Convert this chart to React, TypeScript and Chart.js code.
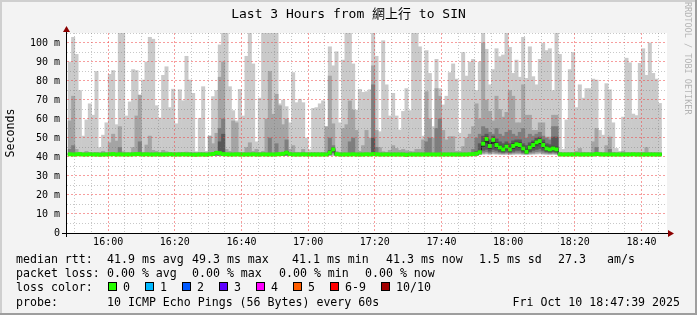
import React, { useEffect, useRef } from 'react';
import { Chart, registerables } from 'chart.js';

Chart.register(...registerables);

// ---------------- texts ----------------
const chartTitle = 'Last 3 Hours from 網上行 to SIN';
const yAxisTitle = 'Seconds';
const watermarkText = 'RRDTOOL / TOBI OETIKER';
const xTickLabels = ['16:00', '16:20', '16:40', '17:00', '17:20', '17:40', '18:00', '18:20', '18:40'];
const yTickLabels = ['0', '10 m', '20 m', '30 m', '40 m', '50 m', '60 m', '70 m', '80 m', '90 m', '100 m'];
const yGridValues = [0, 5, 10, 15, 20, 25, 30, 35, 40, 45, 50, 55, 60, 65, 70, 75, 80, 85, 90, 95, 100, 105];
const medianRttLegend = ['median rtt:', '41.9 ms avg', '49.3 ms max', '41.1 ms min', '41.3 ms now', '1.5 ms sd', '27.3', 'am/s'];
const packetLossLegend = ['packet loss:', '0.00 % avg', '0.00 % max', '0.00 % min', '0.00 % now'];
const lossColorTitle = 'loss color:';
const lossLabels = ['0', '1', '2', '3', '4', '5', '6-9', '10/10'];
const lossColors = ['#26ff00', '#00b8ff', '#0059ff', '#5e00ff', '#ff00ff', '#ff5e00', '#ff0000', '#a10000'];
const probeLegend = ['probe:', '10 ICMP Echo Pings (56 Bytes) every 60s'];
const timestampText = 'Fri Oct 10 18:47:39 2025';

// ---------------- time axis (minutes after 15:47:39) ----------------
const windowMinutes = 180;
const firstStepMinute = 0.35; // 15:48:00
const firstGridMinute = 2.35; // 15:50
const gridStepMinutes = 5;
const gridLineCount = 36;
const yTop = 105.26;

// ---------------- sorted pings per 1-minute step (ms) ----------------
const pingMin = [
  40.9, 40.9, 40.9, 40.9, 40.9, 40.9, 40.9, 40.9, 40.9, 40.9,
  40.9, 40.9, 40.9, 40.9, 40.9, 40.9, 40.9, 40.9, 40.9, 40.9,
  40.9, 40.9, 40.9, 40.9, 40.9, 40.9, 40.9, 40.9, 40.9, 40.9,
  40.9, 40.9, 40.9, 40.9, 40.9, 40.9, 40.9, 40.9, 40.9, 40.9,
  40.9, 40.9, 40.9, 40.9, 40.9, 40.9, 40.9, 40.9, 40.9, 40.9,
  40.9, 40.9, 40.9, 40.9, 40.9, 40.9, 40.9, 40.9, 40.9, 40.9,
  40.9, 40.9, 40.9, 40.9, 40.9, 40.9, 40.9, 40.9, 40.9, 40.9,
  40.9, 40.9, 40.9, 40.9, 40.9, 40.9, 40.9, 40.9, 40.9, 40.9,
  40.9, 40.9, 40.9, 40.9, 40.9, 40.9, 40.9, 40.9, 40.9, 40.9,
  40.9, 40.9, 40.9, 40.9, 40.9, 40.9, 40.9, 40.9, 40.9, 40.9,
  40.9, 40.9, 40.9, 40.9, 40.9, 40.9, 40.9, 40.9, 40.9, 40.9,
  40.9, 40.9, 40.9, 40.9, 40.9, 40.9, 40.9, 40.9, 40.9, 40.9,
  40.9, 40.9, 40.9, 41.2, 41.4, 41.5, 41.3, 41.5, 41.4, 41.3,
  41.3, 41.3, 41.2, 41.3, 41.4, 41.4, 41.3, 41.2, 41.3, 41.4,
  41.5, 41.6, 41.4, 41.3, 41.3, 41.3, 41.2, 40.9, 40.9, 40.9,
  40.9, 40.9, 40.9, 40.9, 40.9, 40.9, 40.9, 40.9, 40.9, 40.9,
  40.9, 40.9, 40.9, 40.9, 40.9, 40.9, 40.9, 40.9, 40.9, 40.9,
  40.9, 40.9, 40.9, 40.9, 40.9, 40.9, 40.9, 40.9,
];
const ping2 = [
  40.95, 40.95, 40.95, 40.95, 40.95, 40.95, 40.95, 40.95, 40.95, 40.95,
  40.95, 40.95, 40.95, 40.95, 40.95, 40.95, 40.95, 40.95, 40.95, 40.95,
  40.95, 40.95, 40.95, 40.95, 40.95, 40.95, 40.95, 40.95, 40.95, 40.95,
  40.95, 40.95, 40.95, 40.95, 40.95, 40.95, 40.95, 40.95, 40.95, 40.95,
  40.95, 40.95, 40.95, 40.95, 40.95, 40.95, 40.95, 40.95, 40.95, 40.95,
  40.95, 40.95, 40.95, 40.95, 40.95, 40.95, 40.95, 40.95, 40.95, 40.95,
  40.95, 40.95, 40.95, 40.95, 40.95, 40.95, 40.95, 40.95, 40.95, 40.95,
  40.95, 40.95, 40.95, 40.95, 40.95, 40.95, 40.95, 40.95, 40.95, 40.95,
  40.95, 40.95, 40.95, 40.95, 40.95, 40.95, 40.95, 40.95, 40.95, 40.95,
  40.95, 40.95, 40.95, 40.95, 40.95, 40.95, 40.95, 40.95, 40.95, 40.95,
  40.95, 40.95, 40.95, 40.95, 40.95, 40.95, 40.95, 40.95, 40.95, 40.95,
  40.95, 40.95, 40.95, 40.95, 40.95, 40.95, 40.95, 40.95, 40.95, 40.95,
  40.95, 40.95, 40.95, 41.4, 41.8, 42, 41.7, 42, 41.8, 41.7,
  41.6, 41.7, 41.6, 41.7, 41.8, 41.8, 41.6, 41.5, 41.7, 41.8,
  42, 42.2, 41.8, 41.7, 41.6, 41.7, 41.6, 40.95, 40.95, 40.95,
  40.95, 40.95, 40.95, 40.95, 40.95, 40.95, 40.95, 40.95, 40.95, 40.95,
  40.95, 40.95, 40.95, 40.95, 40.95, 40.95, 40.95, 40.95, 40.95, 40.95,
  40.95, 40.95, 40.95, 40.95, 40.95, 40.95, 40.95, 40.95,
];
const ping3 = [
  41, 41, 41, 41, 41, 41, 41, 41, 41, 41,
  41, 41, 41, 41, 41, 41, 41, 41, 41, 41,
  41, 41, 41, 41, 41, 41, 41, 41, 41, 41,
  41, 41, 41, 41, 41, 41, 41, 41, 41, 41,
  41, 41, 41, 41, 41, 41, 41, 41, 41, 41,
  41, 41, 41, 41, 41, 41, 41, 41, 41, 41,
  41, 41, 41, 41, 41, 41, 41, 41, 41, 41,
  41, 41, 41, 41, 41, 41, 41, 41, 41, 42,
  41, 41, 41, 41, 41, 41, 41, 41, 41, 41,
  41, 41, 41, 41, 41, 41, 41, 41, 41, 41,
  41, 41, 41, 41, 41, 41, 41, 41, 41, 41,
  41, 41, 41, 41, 41, 41, 41, 41, 41, 41,
  41, 41, 41, 41.6, 42.5, 42.8, 42.2, 42.8, 42.5, 42.2,
  42, 42.3, 42, 42.3, 42.5, 42.5, 42, 41.7, 42.2, 42.5,
  42.8, 43, 42.5, 42.2, 42, 42.2, 42, 41, 41, 41,
  41, 41, 41, 41, 41, 41, 41, 41, 41, 41,
  41, 41, 41, 41, 41, 41, 41, 41, 41, 41,
  41, 41, 41, 41, 41, 41, 41, 41,
];
const ping4 = [
  41.05, 41.05, 41.05, 41.05, 41.05, 41.05, 41.05, 41.05, 41.05, 41.05,
  41.05, 41.05, 41.05, 41.05, 41.05, 41.05, 41.05, 41.05, 41.05, 41.05,
  41.05, 41.05, 41.05, 41.05, 41.05, 41.05, 41.05, 41.05, 41.05, 41.05,
  41.05, 41.05, 41.05, 41.05, 41.05, 41.05, 41.05, 41.05, 41.05, 41.05,
  41.05, 41.05, 41.05, 41.05, 41.05, 41.05, 41.05, 41.05, 41.05, 41.05,
  41.05, 41.05, 41.05, 41.05, 41.05, 41.05, 41.05, 41.05, 41.05, 41.05,
  41.05, 41.05, 41.05, 41.05, 41.05, 41.05, 41.05, 41.05, 41.05, 41.05,
  41.05, 41.05, 41.05, 41.05, 41.05, 41.05, 41.05, 41.05, 41.5, 42.5,
  41.05, 41.05, 41.05, 41.05, 41.05, 41.05, 41.05, 41.05, 41.05, 41.05,
  41.05, 41.05, 41.05, 41.05, 41.05, 41.05, 41.05, 41.05, 41.05, 41.05,
  41.05, 41.05, 41.05, 41.05, 41.05, 41.05, 41.05, 41.05, 41.05, 41.05,
  41.05, 41.05, 41.05, 41.05, 41.05, 41.05, 41.05, 41.05, 41.05, 41.05,
  41.05, 41.05, 41.1, 41.8, 43.5, 44, 43, 44, 43.5, 42.8,
  42.5, 43, 42.5, 43, 43.5, 43.5, 42.5, 41.9, 42.8, 43.5,
  44, 44.5, 43.5, 42.8, 42.5, 42.8, 42.5, 41.05, 41.05, 41.05,
  41.05, 41.05, 41.05, 41.05, 41.05, 41.05, 41.05, 41.05, 41.05, 41.05,
  41.05, 41.05, 41.05, 41.05, 41.05, 41.05, 41.05, 41.05, 41.05, 41.05,
  41.05, 41.05, 41.05, 41.05, 41.05, 41.05, 41.05, 41.05,
];
const ping5 = [
  41.1, 41.1, 41.1, 41.1, 41.1, 41.1, 41.1, 41.1, 41.1, 41.1,
  41.1, 41.1, 41.1, 41.1, 41.1, 41.1, 41.1, 41.1, 41.1, 41.1,
  41.1, 41.1, 41.1, 41.1, 41.1, 41.1, 41.1, 41.1, 41.1, 41.1,
  41.1, 41.1, 41.1, 41.1, 41.1, 41.1, 41.1, 41.1, 41.1, 41.1,
  41.1, 41.1, 41.1, 41.1, 41.8, 41.6, 41.1, 41.1, 41.1, 41.1,
  41.1, 41.1, 41.1, 41.1, 41.1, 41.1, 41.1, 41.1, 41.1, 41.1,
  41.1, 41.1, 41.1, 41.1, 41.1, 41.9, 41.1, 41.1, 41.1, 41.1,
  41.1, 41.1, 41.1, 41.1, 41.1, 41.1, 41.1, 41.1, 41.8, 43.2,
  41.1, 41.1, 41.1, 41.1, 41.1, 41.1, 41.1, 41.1, 41.1, 41.1,
  41.1, 41.1, 41.1, 41.1, 41.1, 41.1, 41.1, 41.1, 41.1, 41.1,
  41.1, 41.1, 41.1, 41.1, 41.1, 41.1, 41.1, 41.1, 41.1, 41.1,
  41.1, 41.1, 41.1, 41.1, 41.1, 41.1, 41.1, 41.1, 41.1, 41.1,
  41.1, 41.1, 41.2, 42, 45.5, 47.5, 44.5, 47, 45, 43.8,
  43, 44.3, 43, 44.5, 45.3, 45, 43.3, 42.2, 43.8, 45,
  46.3, 47, 45, 43.5, 43, 43.5, 43, 41.1, 41.1, 41.1,
  41.1, 41.1, 41.1, 41.1, 41.1, 41.1, 41.1, 41.1, 41.1, 41.1,
  41.1, 41.1, 41.1, 41.1, 41.1, 41.1, 41.1, 41.1, 41.1, 41.1,
  41.1, 41.1, 41.1, 41.1, 41.1, 41.1, 41.1, 41.1,
];
const ping6 = [
  41.7, 41.7, 41.7, 41.7, 41.7, 41.7, 41.7, 41.7, 41.7, 41.7,
  41.7, 41.7, 41.7, 41.7, 41.7, 41.7, 41.7, 41.7, 41.7, 41.7,
  41.7, 41.7, 41.7, 41.7, 41.7, 41.7, 41.7, 41.7, 41.7, 41.7,
  41.7, 41.7, 41.7, 41.7, 41.7, 41.7, 41.7, 41.7, 41.7, 41.7,
  41.7, 41.7, 41.7, 41.8, 42.6, 42.4, 41.7, 41.7, 41.7, 41.7,
  41.7, 41.7, 41.7, 41.7, 41.7, 41.7, 41.7, 41.7, 41.7, 41.7,
  41.7, 41.7, 41.7, 41.7, 42, 42.7, 41.7, 41.7, 41.7, 41.7,
  41.7, 41.7, 41.7, 41.7, 41.7, 41.7, 41.7, 41.7, 43, 44.6,
  41.7, 41.7, 41.7, 41.7, 41.7, 41.7, 41.7, 41.7, 41.7, 41.7,
  41.7, 41.7, 41.7, 41.7, 41.7, 41.7, 41.7, 41.7, 41.7, 41.7,
  41.7, 41.7, 41.7, 41.7, 41.7, 41.7, 41.7, 41.7, 41.7, 41.7,
  41.7, 41.7, 41.7, 41.7, 41.7, 41.7, 41.7, 41.7, 41.7, 41.7,
  41.7, 41.7, 42.1, 43.3, 48, 50.5, 47, 50, 47.5, 46.2,
  45.2, 46.7, 45.2, 47, 47.8, 47.5, 45.7, 44, 46.2, 47.5,
  48.8, 49.5, 47.5, 45.7, 45.2, 45.7, 45.2, 41.7, 41.7, 41.7,
  41.7, 41.7, 41.7, 41.7, 41.7, 41.7, 41.7, 41.7, 41.9, 41.7,
  41.7, 41.7, 41.7, 41.7, 41.7, 41.7, 41.7, 41.7, 41.7, 41.7,
  41.7, 41.7, 41.7, 41.7, 41.7, 41.7, 41.7, 41.7,
];
const ping7 = [
  41.9, 41.9, 41.9, 41.9, 41.9, 41.9, 41.9, 41.9, 41.9, 41.9,
  41.9, 41.9, 41.9, 41.9, 41.9, 41.9, 41.9, 41.9, 41.9, 41.9,
  41.9, 41.9, 41.9, 41.9, 41.9, 41.9, 41.9, 41.9, 41.9, 41.9,
  41.9, 41.9, 41.9, 41.9, 41.9, 41.9, 41.9, 41.9, 41.9, 41.9,
  41.9, 41.9, 41.9, 41.9, 42.8, 48, 52, 41.9, 41.9, 41.9,
  41.9, 41.9, 41.9, 41.9, 41.9, 41.9, 41.9, 41.9, 41.9, 41.9,
  41.9, 41.9, 41.9, 41.9, 42.2, 43, 41.9, 41.9, 41.9, 41.9,
  41.9, 41.9, 41.9, 41.9, 41.9, 41.9, 41.9, 41.9, 43.5, 45,
  41.9, 41.9, 41.9, 41.9, 41.9, 41.9, 41.9, 41.9, 41.9, 41.9,
  41.9, 50, 41.9, 41.9, 41.9, 41.9, 41.9, 41.9, 41.9, 41.9,
  41.9, 41.9, 41.9, 41.9, 41.9, 41.9, 41.9, 41.9, 41.9, 41.9,
  41.9, 41.9, 41.9, 41.9, 41.9, 41.9, 41.9, 41.9, 41.9, 41.9,
  41.9, 41.9, 43, 47, 51, 52, 49, 51, 49.5, 48,
  47, 48, 47, 48.5, 49, 49, 47, 46, 47.5, 48.5,
  50, 50.5, 49, 47, 46.5, 50.5, 50.5, 41.9, 41.9, 41.9,
  41.9, 41.9, 41.9, 41.9, 41.9, 41.9, 41.9, 41.9, 42.1, 41.9,
  41.9, 41.9, 41.9, 41.9, 41.9, 41.9, 41.9, 41.9, 41.9, 41.9,
  41.9, 41.9, 41.9, 41.9, 41.9, 41.9, 41.9, 41.9,
];
const ping8 = [
  44, 46, 42.1, 42.1, 42.1, 42.1, 42.1, 42.1, 42.1, 42.1,
  42.1, 42.1, 42.1, 42.1, 42.1, 45, 42.1, 42.1, 42.1, 42.1,
  42.1, 48, 42.1, 42.1, 42.1, 42.1, 42.1, 42.1, 42.1, 42.1,
  42.1, 42.1, 42.1, 42.1, 42.1, 42.1, 42.1, 42.1, 42.1, 42.1,
  42.1, 42.1, 42.1, 42.1, 43, 55, 60, 42.1, 42.1, 42.1,
  42.1, 42.1, 42.1, 42.1, 42.1, 42.1, 42.1, 42.1, 42.1, 42.1,
  50, 42.1, 47, 42.1, 42.3, 49, 42.1, 42.1, 42.1, 42.1,
  42.1, 42.1, 42.1, 42.1, 42.1, 42.1, 42.1, 42.1, 50, 46,
  42.1, 42.1, 42.1, 42.1, 48, 50, 42.1, 42.1, 42.1, 42.1,
  42.1, 78, 45, 42.1, 42.1, 42.1, 42.1, 42.1, 42.1, 42.1,
  42.1, 42.1, 42.1, 42.1, 42.1, 42.1, 42.1, 48, 50, 42.1,
  55, 60, 42.1, 42.1, 42.1, 42.1, 42.1, 42.1, 42.1, 42.1,
  42.1, 44, 50, 52, 56, 55, 53, 52, 55, 52,
  51, 53, 54, 52, 51, 53, 55, 50, 52, 51,
  52, 53, 51, 50, 49, 56, 56, 42.1, 42.1, 42.1,
  42.1, 42.1, 42.1, 42.1, 42.1, 42.1, 42.1, 42.1, 45, 42.1,
  42.1, 42.1, 44, 42.1, 42.1, 42.1, 42.1, 42.1, 42.1, 42.1,
  42.1, 42.1, 42.1, 42.1, 42.1, 42.1, 42.1, 42.1,
];
const ping9 = [
  59, 72, 44, 42.5, 42.2, 43, 42.3, 42.2, 42.4, 42.2,
  43, 42.3, 47.5, 52, 48.4, 56, 42.8, 42.3, 42.2, 45,
  61.6, 72.6, 42.5, 46.3, 51, 43.5, 43, 42.3, 43.5, 42.8,
  42.4, 42.3, 42.2, 42.5, 42.3, 42.6, 42.4, 42.2, 42.2, 42.3,
  42.3, 42.2, 51, 47, 52.5, 82, 90, 44, 43, 59,
  58, 42.5, 42.3, 45, 47.5, 43, 44, 42.4, 43, 60,
  85, 62.5, 73, 67, 57, 60, 44, 46, 42.5, 42.4,
  44, 42.3, 42.2, 42.3, 42.3, 42.2, 42.4, 56, 82.6, 57.5,
  43, 42.5, 55, 57, 69.5, 64.7, 54, 43, 46, 54,
  50, 88, 54, 45, 42.8, 42.5, 43.5, 46, 44.5, 43.5,
  44, 43.3, 43, 42.8, 44, 44, 49, 74.4, 60, 50,
  76, 72, 54, 49, 50.7, 50.7, 43, 43, 45.5, 50,
  52, 56, 68, 60, 100, 70, 64, 59, 72, 65,
  61, 63.5, 75, 72, 58, 58, 78, 62, 62, 54,
  54, 58, 58, 50.5, 50.5, 62, 62, 42.5, 42.2, 42.3,
  42.3, 42.3, 43, 44.5, 42.5, 42.4, 42.3, 48, 55, 42.5,
  42.3, 46, 50.5, 42.5, 42.2, 42.2, 43, 42.4, 42.3, 42.2,
  42.3, 42.4, 42.5, 45, 42.4, 42.3, 42.3, 42.2,
];
const pingMax = [
  90, 103, 94, 75, 51, 59.5, 68, 62, 85, 45,
  51.5, 58, 83.5, 85.5, 57, 106, 106, 61.6, 69, 86,
  85.5, 58.6, 80.5, 90, 103, 102, 67, 60.5, 83, 87.5,
  66, 75.7, 57.5, 75.4, 69.6, 93, 80.5, 73.5, 42.8, 60.4,
  77, 43, 51, 71.8, 75, 99, 106, 106, 77, 64.4,
  59, 75.6, 61.6, 93, 106, 89, 48, 71, 106, 106,
  106, 106, 106, 68, 70, 66.5, 58, 84.4, 68.6, 70.4,
  68.6, 50, 43.8, 65.6, 66, 68, 69.6, 54.6, 98, 88,
  95.4, 58, 91, 106, 106, 89, 64.7, 75.6, 74, 74.4,
  75.4, 106, 93, 53.3, 101.2, 78, 61.6, 73.5, 61.6, 54.2,
  64, 76, 64.4, 106, 106, 98, 51, 96, 84, 56,
  91.4, 76, 67.4, 72, 84.4, 89, 81, 52.5, 95, 82.6,
  90, 91.4, 75, 90, 106, 96.7, 78, 86, 97, 92.8,
  93.7, 106, 97.7, 84, 91, 82, 103, 81.4, 98, 82.3,
  78, 91.4, 99.8, 96, 97, 75, 106, 94, 44, 59.5,
  86, 95, 66, 78, 71, 76, 76, 81, 80.5, 54,
  51.5, 78.6, 75.4, 58, 44.5, 43, 61, 92, 89.6, 62.6,
  61.8, 89.3, 97, 83, 100, 84, 81, 68.2,
];
const medianRtt = [
  41.4, 41.3, 41.4, 41.5, 41.3, 41.3, 41.4, 41.3, 41.3, 41.2,
  41.3, 41.3, 41.4, 41.5, 41.3, 41.4, 41.3, 41.3, 41.3, 41.4,
  41.5, 41.5, 41.3, 41.4, 41.3, 41.3, 41.4, 41.3, 41.3, 41.3,
  41.4, 41.3, 41.3, 41.3, 41.4, 41.3, 41.3, 41.2, 41.2, 41.3,
  41.3, 41.2, 41.4, 41.6, 42.2, 42.0, 41.5, 41.4, 41.3, 41.3,
  41.4, 41.3, 41.3, 41.3, 41.3, 41.4, 41.3, 41.3, 41.4, 41.3,
  41.3, 41.3, 41.4, 41.5, 41.7, 42.3, 41.5, 41.3, 41.3, 41.3,
  41.4, 41.3, 41.3, 41.3, 41.3, 41.3, 41.3, 41.3, 42.3, 44.0,
  41.5, 41.3, 41.3, 41.3, 41.3, 41.4, 41.3, 41.3, 41.3, 41.4,
  41.3, 41.5, 41.4, 41.3, 41.3, 41.3, 41.3, 41.3, 41.3, 41.3,
  41.3, 41.1, 41.3, 41.3, 41.3, 41.3, 41.3, 41.3, 41.3, 41.3,
  41.3, 41.3, 41.3, 41.3, 41.3, 41.3, 41.3, 41.3, 41.3, 41.3,
  41.4, 41.5, 41.8, 42.5, 47.0, 49.5, 45.8, 49.0, 46.3, 45.0,
  44.0, 45.5, 44.0, 45.8, 46.7, 46.3, 44.5, 42.8, 45.0, 46.3,
  47.7, 48.4, 46.3, 44.5, 44.0, 44.5, 44.0, 41.4, 41.3, 41.3,
  41.3, 41.3, 41.4, 41.3, 41.3, 41.3, 41.3, 41.3, 41.6, 41.4,
  41.3, 41.3, 41.3, 41.3, 41.3, 41.3, 41.3, 41.3, 41.3, 41.4,
  41.3, 41.3, 41.3, 41.3, 41.3, 41.3, 41.3, 41.3,
];

// ---------------- styles / layout ----------------
const MONO = '"DejaVu Sans Mono", "Noto Sans CJK TC", monospace';
const SMOKE = ['#cacaca', '#a4a4a4', '#7e7e7e', '#585858', '#323232'];
const MEDIAN_GREEN = '#26ff00';
const MEDIAN_HALF = 0.87; // half thickness of the median line, in ms
const MAJOR_GRID = 'rgba(240, 60, 60, 0.5)';
const MINOR_GRID = 'rgba(110, 110, 110, 0.38)';
const L = {
  medianX: [16, 107, 192, 292, 386, 479, 558, 607],
  lossX: [16, 107, 192, 279, 365],
  boxX: [108, 145, 182, 219, 256, 293, 330, 381],
  lossLabelX: [123, 160, 197, 234, 271, 308, 345, 396],
  probeX: [16, 107],
  rows: [263, 277, 291, 306],
};

const stepCenter = (i: number) => firstStepMinute + i + 0.5;
const band = (lo: number[], hi: number[]) => lo.map((v, i) => ({ x: stepCenter(i), y: [v, hi[i]] }));
const barCommon = { type: 'bar' as const, grouped: false, borderWidth: 0, categoryPercentage: 1, barPercentage: 1 };

const rrdPlugin = {
  id: 'rrdFrame',
  beforeDraw(chart: any) {
    const { ctx, width, height, chartArea: a } = chart;
    ctx.save();
    ctx.fillStyle = '#f3f3f3';
    ctx.fillRect(0, 0, width, height);
    ctx.fillStyle = '#cfcfcf';
    ctx.fillRect(0, 0, width, 2);
    ctx.fillRect(0, 0, 2, height);
    ctx.fillStyle = '#9e9e9e';
    ctx.fillRect(0, height - 2, width, 2);
    ctx.fillRect(width - 2, 0, 2, height);
    ctx.fillStyle = '#ffffff';
    ctx.fillRect(a.left, a.top, a.right - a.left, a.bottom - a.top);

    ctx.fillStyle = '#000';
    ctx.textAlign = 'center';
    ctx.textBaseline = 'middle';
    ctx.font = `13px ${MONO}`;
    ctx.fillText(chartTitle, 348.5, 15);

    ctx.save();
    ctx.translate(11, 133);
    ctx.rotate(-Math.PI / 2);
    ctx.font = `11.6px ${MONO}`;
    ctx.fillText(yAxisTitle, 0, 0);
    ctx.restore();

    ctx.save();
    ctx.translate(687, 2);
    ctx.rotate(Math.PI / 2);
    ctx.textAlign = 'left';
    ctx.font = `8.5px ${MONO}`;
    ctx.fillStyle = '#b4b4b4';
    ctx.fillText(watermarkText, 0, 0);
    ctx.restore();

    ctx.font = `11.6px ${MONO}`;
    ctx.textAlign = 'left';
    ctx.textBaseline = 'alphabetic';
    ctx.fillStyle = '#000';
    medianRttLegend.forEach((t, i) => ctx.fillText(t, L.medianX[i], L.rows[0]));
    packetLossLegend.forEach((t, i) => ctx.fillText(t, L.lossX[i], L.rows[1]));
    ctx.fillText(lossColorTitle, 16, L.rows[2]);
    lossLabels.forEach((t, i) => {
      ctx.fillStyle = lossColors[i];
      ctx.fillRect(L.boxX[i], L.rows[2] - 9, 9, 9);
      ctx.strokeStyle = '#000';
      ctx.lineWidth = 1;
      ctx.strokeRect(L.boxX[i] + 0.5, L.rows[2] - 8.5, 8, 8);
      ctx.fillStyle = '#000';
      ctx.fillText(t, L.lossLabelX[i], L.rows[2]);
    });
    probeLegend.forEach((t, i) => ctx.fillText(t, L.probeX[i], L.rows[3]));
    ctx.textAlign = 'right';
    ctx.fillText(timestampText, 680, L.rows[3]);
    ctx.restore();
  },
  afterDraw(chart: any) {
    const { ctx, chartArea: a } = chart;
    ctx.save();
    ctx.fillStyle = '#000';
    ctx.fillRect(a.left - 1, a.top - 3, 1, a.bottom - a.top + 7);
    ctx.fillRect(a.left - 5, a.bottom, a.right - a.left + 7, 1);
    ctx.fillStyle = '#8b0000';
    ctx.beginPath();
    ctx.moveTo(a.left - 4, a.top - 1);
    ctx.lineTo(a.left + 3, a.top - 1);
    ctx.lineTo(a.left - 0.5, a.top - 7);
    ctx.closePath();
    ctx.fill();
    ctx.beginPath();
    ctx.moveTo(a.right + 1, a.bottom - 3);
    ctx.lineTo(a.right + 1, a.bottom + 4);
    ctx.lineTo(a.right + 7, a.bottom + 0.5);
    ctx.closePath();
    ctx.fill();
    ctx.restore();
  },
};

export default function App() {
  const ref = useRef<HTMLCanvasElement>(null);
  useEffect(() => {
    document.body.style.margin = '0';
    const canvas = ref.current;
    if (!canvas) return;
    const medianSteps = medianRtt.map((v, i) => ({ x: firstStepMinute + i, y: v }));
    medianSteps.push({ x: firstStepMinute + medianRtt.length, y: medianRtt[medianRtt.length - 1] });
    const chart = new Chart(canvas, {
      type: 'bar',
      data: {
        datasets: [
          { ...barCommon, data: medianRtt.map((v, i) => ({ x: stepCenter(i), y: [v - MEDIAN_HALF, v + MEDIAN_HALF] })), backgroundColor: MEDIAN_GREEN, order: 0 },
          { type: 'line', data: medianSteps, stepped: true, borderColor: '#202020', borderWidth: 1, pointRadius: 0, order: 1 } as any,
          { ...barCommon, data: band(ping5, ping6), backgroundColor: SMOKE[4], order: 2 },
          { ...barCommon, data: band(ping4, ping7), backgroundColor: SMOKE[3], order: 3 },
          { ...barCommon, data: band(ping3, ping8), backgroundColor: SMOKE[2], order: 4 },
          { ...barCommon, data: band(ping2, ping9), backgroundColor: SMOKE[1], order: 5 },
          { ...barCommon, data: band(pingMin, pingMax), backgroundColor: SMOKE[0], order: 6 },
        ] as any,
      },
      options: {
        animation: false,
        responsive: false,
        devicePixelRatio: 1,
        events: [],
        layout: { padding: { left: 0, right: 30, top: 33, bottom: 0 } },
        plugins: { legend: { display: false }, tooltip: { enabled: false }, title: { display: false } },
        scales: {
          x: {
            type: 'linear',
            min: 0,
            max: windowMinutes,
            offset: false,
            afterBuildTicks: (s: any) => {
              const t = [];
              for (let i = 0; i < gridLineCount; i++) t.push({ value: firstGridMinute + i * gridStepMinutes });
              s.ticks = t;
            },
            afterFit: (s: any) => { s.height = 82; },
            grid: {
              offset: false,
              drawTicks: false,
              z: 1,
              lineWidth: 1,
              color: (c: any) => ((c.index - 2) % 4 === 0 ? MAJOR_GRID : MINOR_GRID),
            },
            border: { display: false, dash: (c: any) => ((c.index - 2) % 4 === 0 ? [2, 2] : [1, 2]) },
            ticks: {
              autoSkip: false,
              maxRotation: 0,
              padding: 3,
              color: '#000',
              font: { family: 'DejaVu Sans Mono', size: 10 },
              callback: (_v: any, i: number) => ((i - 2) % 4 === 0 ? xTickLabels[(i - 2) / 4] : ''),
            },
          },
          y: {
            type: 'linear',
            min: 0,
            max: yTop,
            afterBuildTicks: (s: any) => { s.ticks = yGridValues.map((v) => ({ value: v })); },
            afterFit: (s: any) => { s.width = 67; },
            grid: {
              drawTicks: false,
              z: 1,
              lineWidth: 1,
              color: (c: any) => {
                const v = c.tick ? c.tick.value : 0;
                if (v === 0) return 'rgba(0,0,0,0)';
                return v % 10 === 0 ? MAJOR_GRID : MINOR_GRID;
              },
            },
            border: { display: false, dash: (c: any) => ((c.tick && c.tick.value % 10 === 0) ? [2, 2] : [1, 2]) },
            ticks: {
              autoSkip: false,
              padding: 7,
              color: '#000',
              font: { family: 'DejaVu Sans Mono', size: 10 },
              callback: (v: any) => (v % 10 === 0 ? yTickLabels[v / 10] : ''),
            },
          },
        },
      } as any,
      plugins: [rrdPlugin],
    });
    return () => chart.destroy();
  }, []);
  return <canvas ref={ref} width={697} height={315} style={{ display: 'block', width: 697, height: 315 }} />;
}
